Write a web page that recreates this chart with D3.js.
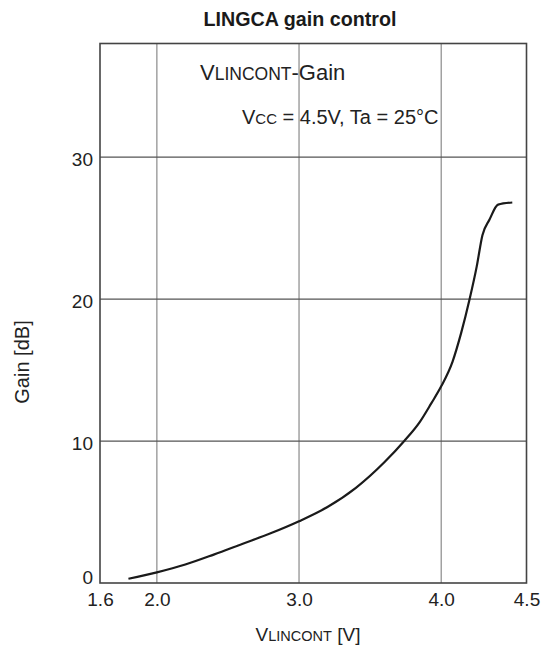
<!DOCTYPE html>
<html>
<head>
<meta charset="utf-8">
<script src="https://cdn.jsdelivr.net/npm/d3@7"></script>
<style>
  html, body { margin: 0; padding: 0; background: #fff; }
  svg { display: block; font-family: "Liberation Sans", Arial, Helvetica, sans-serif; }
</style>
</head>
<body>
<svg id="chart" width="543" height="649"></svg>
<script>
// Gain vs. control voltage, VCC = 4.5 V, Ta = 25 °C
const vlincont = [1.8, 2.0, 2.2, 2.4, 2.6, 2.8, 3.0, 3.2, 3.4, 3.6, 3.74, 3.85, 3.93, 4.0, 4.08, 4.14, 4.2, 4.25, 4.29, 4.34, 4.40, 4.50];
const gainDb   = [0.3, 0.75, 1.3, 2.0, 2.75, 3.5, 4.35, 5.35, 6.7, 8.5, 10.0, 11.35, 12.65, 13.85, 15.6, 17.6, 20.0, 22.3, 24.5, 25.6, 26.65, 26.8];

const xDomain = [1.6, 4.6];
const yDomain = [0, 38];
const xTickValues = [1.6, 2.0, 3.0, 4.0, 4.6];
const xTickLabels = ["1.6", "2.0", "3.0", "4.0", "4.5"];
const yTickValues = [0, 10, 20, 30];
const xGrid = [2.0, 3.0, 4.0];
const yGrid = [10, 20, 30];

const W = 543, H = 649;
const margin = { top: 43.5, right: 16.5, bottom: 66, left: 100 };
const iw = W - margin.left - margin.right;
const ih = H - margin.top - margin.bottom;

const svg = d3.select("#chart");
const g = svg.append("g").attr("transform", `translate(${margin.left},${margin.top})`);

const x = d3.scaleLinear().domain(xDomain).range([0, iw]);
const y = d3.scaleLinear().domain(yDomain).range([ih, 0]);

// grid
g.selectAll(".vgrid").data(xGrid).enter().append("line")
  .attr("x1", d => x(d)).attr("x2", d => x(d))
  .attr("y1", 0).attr("y2", ih)
  .attr("stroke", "#8a8a8a").attr("stroke-width", 1.2);
g.selectAll(".hgrid").data(yGrid).enter().append("line")
  .attr("x1", 0).attr("x2", iw)
  .attr("y1", d => y(d)).attr("y2", d => y(d))
  .attr("stroke", "#555").attr("stroke-width", 1.2);

// frame
g.append("rect").attr("x", 0).attr("y", 0).attr("width", iw).attr("height", ih)
  .attr("fill", "none").attr("stroke", "#444").attr("stroke-width", 1.6);

// x axis labels
const xAxis = d3.axisBottom(x).tickValues(xTickValues)
  .tickFormat((d, i) => xTickLabels[i]).tickSize(0).tickPadding(10);
const gx = g.append("g").attr("transform", `translate(0,${ih})`).call(xAxis);
gx.select(".domain").remove();
gx.selectAll("text").attr("font-size", 19).attr("fill", "#222")
  .attr("font-family", "Liberation Sans, Arial, sans-serif");

// y axis labels
const yAxis = d3.axisLeft(y).tickValues(yTickValues).tickFormat(d3.format("d"))
  .tickSize(0).tickPadding(7);
const gy = g.append("g").call(yAxis);
gy.select(".domain").remove();
gy.selectAll("text").attr("font-size", 19).attr("fill", "#222")
  .attr("font-family", "Liberation Sans, Arial, sans-serif")
  .attr("dy", d => d === 0 ? "0.05em" : "0.42em");

// curve
const line = d3.line()
  .x((d, i) => x(vlincont[i]))
  .y(d => y(d))
  .curve(d3.curveMonotoneX);
g.append("path").datum(gainDb)
  .attr("d", line)
  .attr("fill", "none").attr("stroke", "#1a1a1a").attr("stroke-width", 2.2)
  .attr("stroke-linejoin", "round").attr("stroke-linecap", "butt");

// title
svg.append("text").attr("x", 300).attr("y", 26).attr("text-anchor", "middle")
  .attr("font-size", 19.7).attr("font-weight", "bold").attr("fill", "#1a1a1a")
  .text("LINGCA gain control");

// in-plot annotations
const t1 = svg.append("text").attr("x", 200).attr("y", 80).attr("font-size", 22).attr("fill", "#222");
t1.append("tspan").text("V");
t1.append("tspan").attr("font-size", 17.5).text("LINCONT");
t1.append("tspan").text("-Gain");

const t2 = svg.append("text").attr("x", 242).attr("y", 124).attr("font-size", 20).attr("fill", "#222");
t2.append("tspan").text("V");
t2.append("tspan").attr("font-size", 15).text("CC");
t2.append("tspan").text(" = 4.5V, Ta = 25°C");

// axis titles
const xt = svg.append("text").attr("x", 308).attr("y", 641).attr("text-anchor", "middle")
  .attr("font-size", 19).attr("fill", "#222");
xt.append("tspan").text("V");
xt.append("tspan").attr("font-size", 14.5).text("LINCONT");
xt.append("tspan").text(" [V]");

svg.append("text").attr("transform", "translate(29,362) rotate(-90)")
  .attr("text-anchor", "middle").attr("font-size", 20).attr("fill", "#222")
  .text("Gain [dB]");
</script>
</body>
</html>
